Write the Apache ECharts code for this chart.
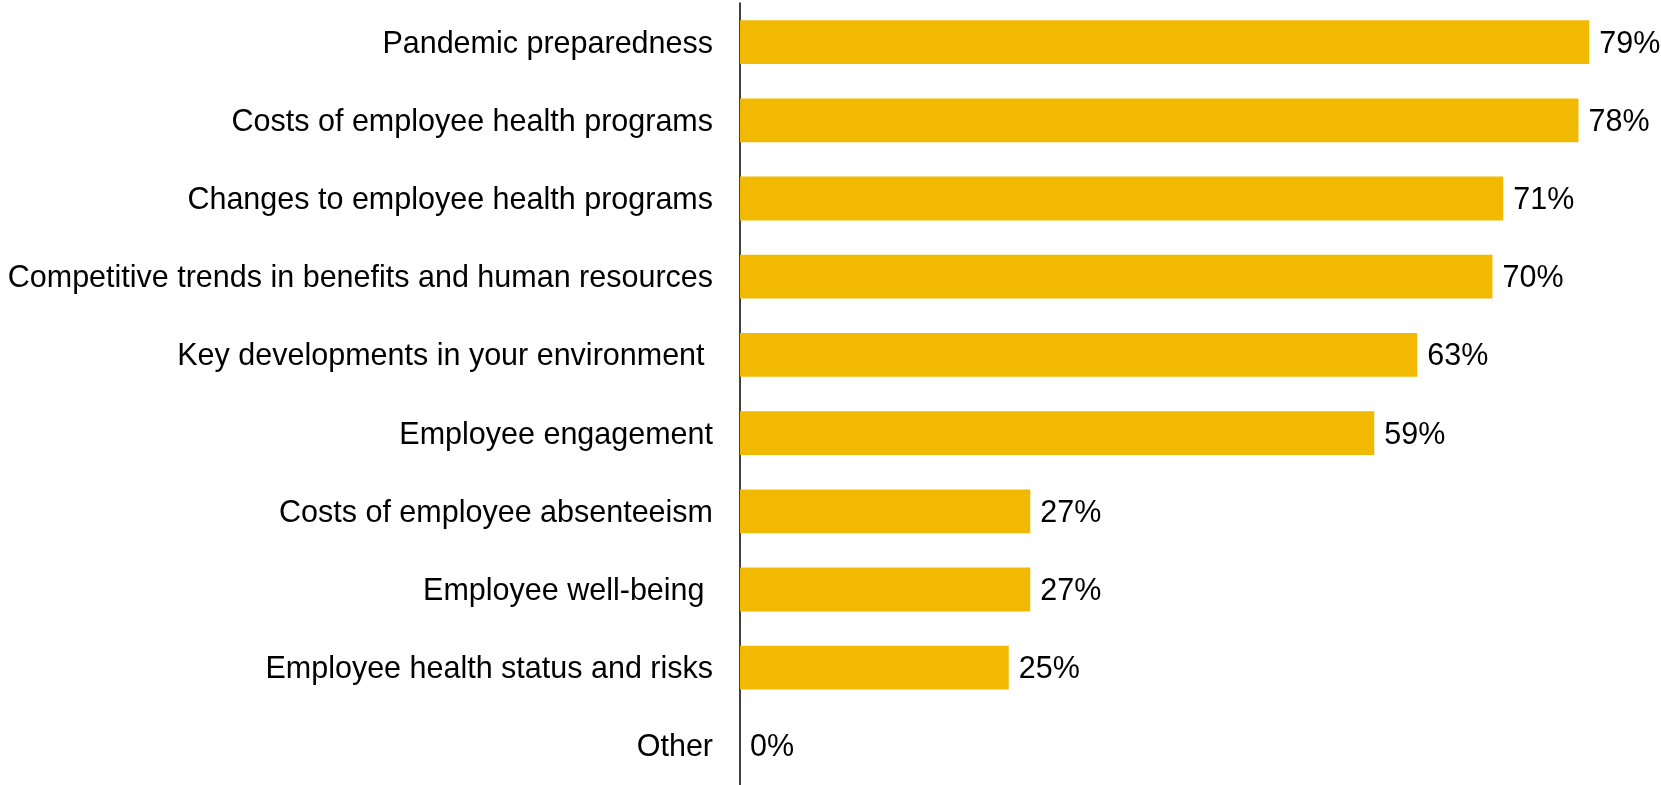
<!DOCTYPE html>
<html>
<head>
<meta charset="utf-8">
<script src="https://cdn.jsdelivr.net/npm/echarts@6/dist/echarts.min.js"></script>
<style>
  html, body { margin: 0; padding: 0; background: #ffffff; }
  #chart { width: 1661px; height: 785px; }
</style>
</head>
<body>
<div id="chart"></div>
<script>
// Topics, listed top to bottom
const categories = [
  'Pandemic preparedness',
  'Costs of employee health programs',
  'Changes to employee health programs',
  'Competitive trends in benefits and human resources',
  'Key developments in your environment ',
  'Employee engagement',
  'Costs of employee absenteeism',
  'Employee well-being ',
  'Employee health status and risks',
  'Other'
];
// Share of respondents, in percent
const shares = [79, 78, 71, 70, 63, 59, 27, 27, 25, 0];

const FONT = 'Liberation Sans, Arial, sans-serif';

const chart = echarts.init(document.getElementById('chart'), null, { renderer: 'canvas' });

chart.setOption({
  animation: false,
  backgroundColor: '#ffffff',
  grid: {
    left: 740, top: 3, width: 860, bottom: 0,
    containLabel: false,
    outerBoundsMode: 'none'
  },
  xAxis: {
    type: 'value',
    min: 0,
    max: 80,
    show: false
  },
  yAxis: {
    type: 'category',
    inverse: true,
    data: categories,
    axisLine: { show: true, lineStyle: { color: '#000000', width: 1.5 } },
    axisTick: { show: false },
    splitLine: { show: false },
    axisLabel: {
      margin: 27,
      formatter: v => '{t|' + v + '}',
      rich: {
        t: {
          color: '#000000',
          fontFamily: FONT,
          fontSize: 30.5,
          padding: [4, 0, 0, 0]
        }
      }
    }
  },
  series: [{
    type: 'bar',
    data: shares,
    barCategoryGap: '44%',
    itemStyle: { color: '#F1BA00' },
    label: {
      show: true,
      position: 'right',
      distance: 10,
      offset: [0, 2],
      formatter: p => p.value + '%',
      color: '#000000',
      fontFamily: FONT,
      fontSize: 30.5
    }
  }]
});
</script>
</body>
</html>
